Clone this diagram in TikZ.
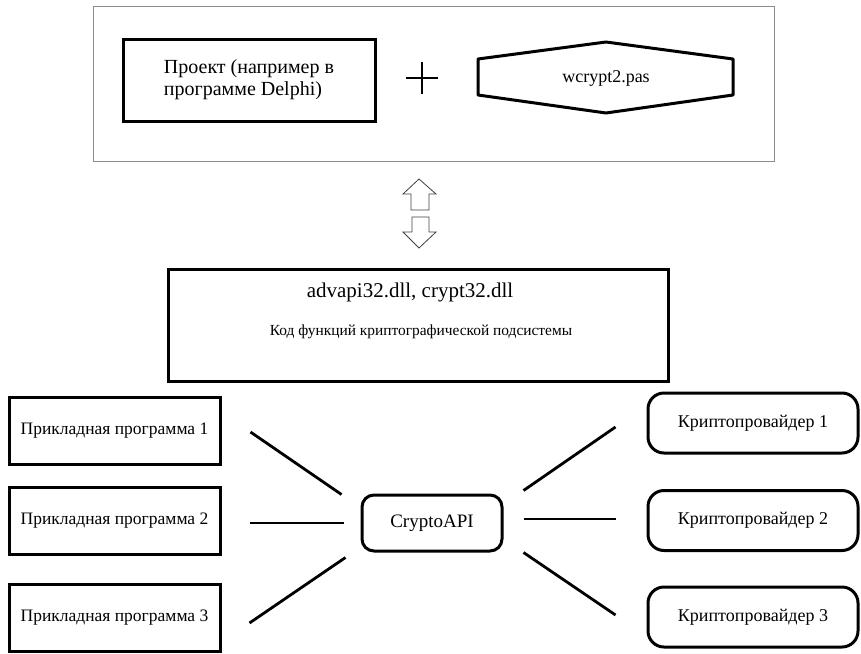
\documentclass[tikz,border=0pt]{standalone}
\usepackage{fontspec}
\setmainfont{Liberation Serif}
\usepackage{tikz}

\begin{document}
\begin{tikzpicture}[x=1pt,y=-1pt,
  box/.style={draw,line width=3pt,minimum width=211pt,minimum height=67pt,font=\fontsize{17.5}{20}\selectfont},
  prov/.style={box,rounded corners=16pt,minimum width=210pt,minimum height=60pt,font=\fontsize{18}{20}\selectfont},
  link/.style={line width=2.8pt},
  blockarrow/.style={draw=black!75,line width=0.8pt,line join=miter}]
\useasboundingbox (0,0) rectangle (861,653);
% upper panel
\node[draw=black!45,line width=1pt,minimum width=681pt,minimum height=155pt] (panel) at (433.5,83.5) {};
\node[box,minimum width=252pt,minimum height=82pt,align=left,font=\fontsize{20}{22}\selectfont] (proj) at (249,80) {Проект (например в\\программе Delphi)};
% plus
\coordinate (plus) at (422,78);
\draw[line width=1.4pt] ([xshift=-16pt]plus) -- ([xshift=16pt]plus) ([yshift=16pt]plus) -- ([yshift=-16pt]plus);
% hexagon
\node[font=\fontsize{18}{20}\selectfont] (pas) at (606,78) {wcrypt2.pas};
\draw[line width=3pt,line join=round] (478,59) -- (606,42) -- (733,59) -- (733,95) -- (606,113) -- (478,95) -- cycle;
% block arrows
\draw[blockarrow] (419,179) -- (436,194) -- (429,194) -- (429,210) -- (411,210) -- (411,194) -- (403,194) -- cycle; % up
\draw[blockarrow] (412,217) -- (429,217) -- (429,232) -- (436,232) -- (419,248) -- (403,232) -- (412,232) -- cycle; % down
% dll box
\node[box,minimum width=500pt,minimum height=112pt] (core) at (418,325) {};
\node[font=\fontsize{21}{24}\selectfont] (dll) at (410,292) {advapi32.dll, crypt32.dll};
\node[font=\fontsize{15.4}{18}\selectfont] (code) at (421,332) {Код функций криптографической подсистемы};
% applications
\foreach \i/\y in {1/430.5,2/521,3/618}
  \node[box] (app\i) at (114.5,\y) {Прикладная программа \i};
% CryptoAPI
\node[box,rounded corners=12pt,minimum width=140pt,minimum height=56pt,font=\fontsize{19}{21}\selectfont] (api) at (432,523) {CryptoAPI};
% providers
\foreach \i/\y in {1/423,2/520.5,3/617}
  \node[prov] (prov\i) at (753,\y) {Криптопровайдер \i};
% links
\draw[link] ([xshift=29pt,yshift=-1.5pt]app1.east) -- ([xshift=-19pt,yshift=-1pt]api.north west);
\draw[link] ([xshift=28pt,yshift=-2pt]app2.east) -- ([xshift=-17pt]api.west);
\draw[link] ([xshift=28pt,yshift=-5pt]app3.east) -- ([xshift=-15pt,yshift=-5pt]api.south west);
\draw[link] ([xshift=20pt,yshift=3pt]api.north east) -- ([xshift=-31pt,yshift=-4pt]prov1.west);
\draw[link] ([xshift=20pt,yshift=4pt]api.east) -- ([xshift=-31pt,yshift=1.5pt]prov2.west);
\draw[link] ([xshift=20pt]api.south east) -- ([xshift=-31pt,yshift=2pt]prov3.west);
\end{tikzpicture}
\end{document}
